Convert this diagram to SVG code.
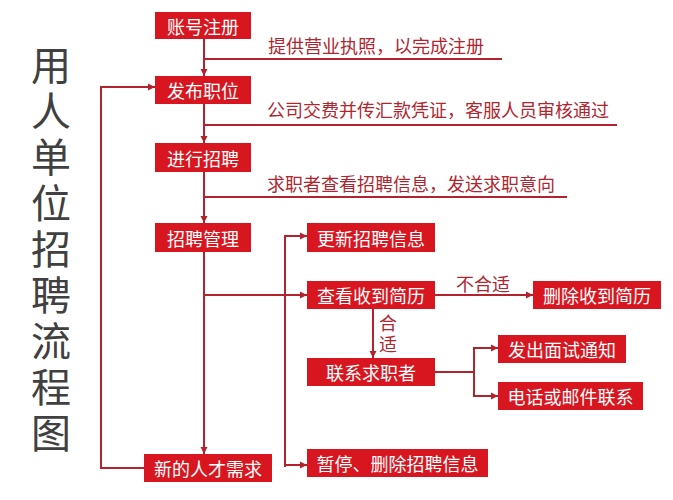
<svg xmlns="http://www.w3.org/2000/svg" width="673" height="500" viewBox="0 0 673 500">
<style>
.box{fill:#d8161f}
.bt{fill:#ffffff;font-family:"Noto Sans CJK SC","Noto Sans",sans-serif;font-size:18px;text-anchor:middle;dominant-baseline:central}
.lbl{fill:#b0262f;font-family:"Noto Sans CJK SC","Noto Sans",sans-serif;font-size:18px;dominant-baseline:central}
.vlbl{fill:#b0262f;font-family:"Noto Sans CJK SC","Noto Sans",sans-serif;font-size:18px;writing-mode:vertical-rl;letter-spacing:3px}
.ln{fill:none;stroke:#b3232d;stroke-width:2}
.arr{fill:none;stroke:#b3232d;stroke-width:2;marker-end:url(#ah)}
.title{fill:#404040;font-family:"Noto Sans CJK SC","Noto Sans",sans-serif;font-size:40px;writing-mode:vertical-rl;letter-spacing:6px}
</style>
<defs>
<marker id="ah" markerUnits="userSpaceOnUse" markerWidth="8" markerHeight="8" refX="7" refY="4" orient="auto">
<path d="M0,0.5 L7,4 L0,7.5 z" fill="#b3232d"/>
</marker>
</defs>
<rect width="673" height="500" fill="#ffffff"/>
<g id="title">
<text class="title" x="51" y="45">用人单位招聘流程图</text>
</g>
<g id="connectors">
<path class="arr" d="M204,39 V76"/>
<path class="ln" d="M204,59 H502"/>
<path class="arr" d="M204,104 V143"/>
<path class="ln" d="M204,125 H617"/>
<path class="arr" d="M204,172 V223"/>
<path class="ln" d="M204,197 H567"/>
<path class="arr" d="M204,252 V454"/>
<path class="arr" d="M204,295 H307"/>
<path class="arr" d="M285,467 V236 H307"/>
<path class="arr" d="M285,465 H307"/>
<path class="arr" d="M435,295 H533"/>
<path class="arr" d="M373,309 V358"/>
<path class="ln" d="M435,372 H474"/>
<path class="arr" d="M474,372 V348 H498"/>
<path class="arr" d="M474,372 V396 H498"/>
<path class="arr" d="M144,468 H101 V87 H155"/>
</g>
<g id="labels">
<text class="lbl" x="268" y="45">提供营业执照，以完成注册</text>
<text class="lbl" x="267" y="109">公司交费并传汇款凭证，客服人员审核通过</text>
<text class="lbl" x="267" y="183">求职者查看招聘信息，发送求职意向</text>
<text class="lbl" x="456" y="283">不合适</text>
<text class="vlbl" x="388" y="314">合适</text>
</g>
<g id="n1"><rect class="box" x="155" y="12" width="96" height="27"/><text class="bt" x="203" y="25.5">账号注册</text></g>
<g id="n2"><rect class="box" x="155" y="76" width="96" height="28"/><text class="bt" x="203" y="90">发布职位</text></g>
<g id="n3"><rect class="box" x="155" y="143" width="96" height="29"/><text class="bt" x="203" y="157.5">进行招聘</text></g>
<g id="n4"><rect class="box" x="155" y="223" width="96" height="29"/><text class="bt" x="203" y="237.5">招聘管理</text></g>
<g id="n5"><rect class="box" x="144" y="454" width="128" height="28"/><text class="bt" x="208" y="468">新的人才需求</text></g>
<g id="n6"><rect class="box" x="307" y="223" width="128" height="29"/><text class="bt" x="371" y="237.5">更新招聘信息</text></g>
<g id="n7"><rect class="box" x="307" y="281" width="128" height="28"/><text class="bt" x="371" y="295">查看收到简历</text></g>
<g id="n8"><rect class="box" x="533" y="281" width="128" height="28"/><text class="bt" x="597" y="295">删除收到简历</text></g>
<g id="n9"><rect class="box" x="307" y="358" width="128" height="28"/><text class="bt" x="371" y="372">联系求职者</text></g>
<g id="n10"><rect class="box" x="498" y="335" width="128" height="28"/><text class="bt" x="562" y="349">发出面试通知</text></g>
<g id="n11"><rect class="box" x="498" y="382" width="145" height="28"/><text class="bt" x="570.5" y="396">电话或邮件联系</text></g>
<g id="n12"><rect class="box" x="307" y="449" width="181" height="28"/><text class="bt" x="397.5" y="463">暂停、删除招聘信息</text></g>
</svg>
